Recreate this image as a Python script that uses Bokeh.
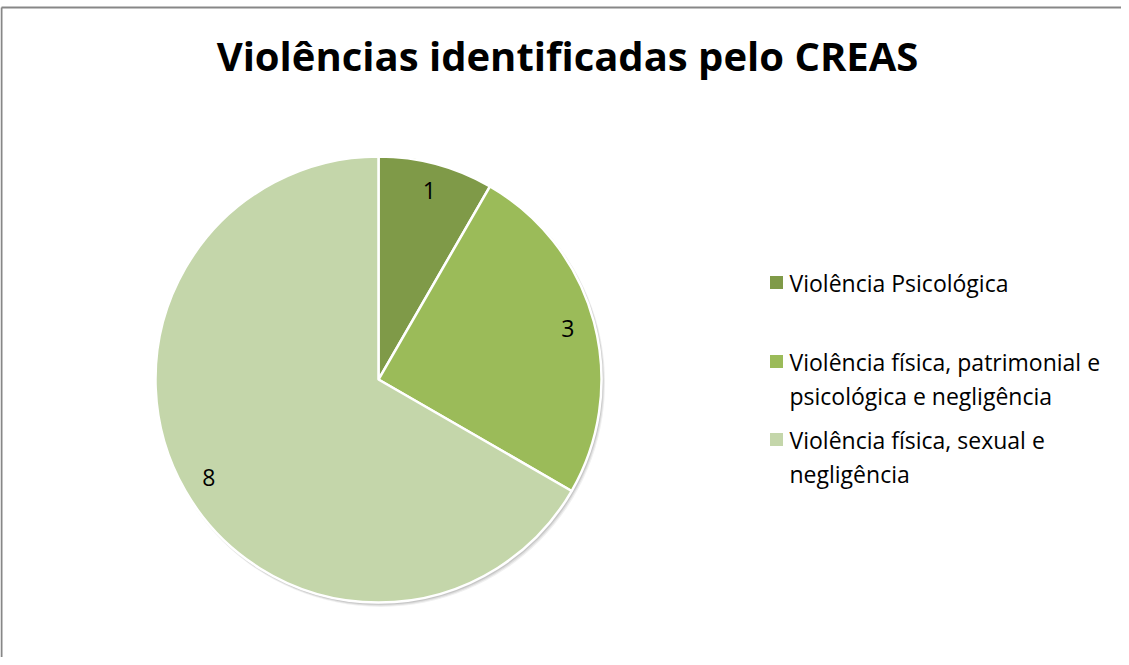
import textwrap
import numpy as np
from bokeh.plotting import figure
from bokeh.models import Range1d, ColumnDataSource
from bokeh.core.properties import value
from bokeh.embed import file_html
from bokeh.resources import INLINE

# ---- data ----
title = "Violências identificadas pelo CREAS"
categories = [
    "Violência Psicológica",
    "Violência física, patrimonial e psicológica e negligência",
    "Violência física, sexual e negligência",
]
counts = [1, 3, 8]
colors = ["#7F9A48", "#9BBB59", "#C4D6AA"]

# ---- layout (screen pixels, page coords) ----
W, H = 1121, 657
OFF = 8
def Y(sy):
    return (OFF + H) - sy

cx, cy, R = 386, 387, 223
FONT = "Open Sans"

p = figure(width=W, height=H, output_backend="svg", toolbar_location=None,
           x_range=Range1d(OFF, OFF + W), y_range=Range1d(0, H),
           min_border=0)
p.axis.visible = False
p.grid.visible = False
p.outline_line_color = None
p.background_fill_color = "white"
p.border_fill_color = "white"

# frame (left and top visible)
p.segment(x0=[9, 9], y0=[Y(15), Y(15)], x1=[9, OFF + W + 5], y1=[Y(OFF + H + 5), Y(15)],
          line_color="#878787", line_width=2)

# title
p.text(x=[575], y=[Y(63)], text=[title], text_align="center", text_baseline="middle",
       text_font=value(FONT), text_font_style="bold", text_font_size="40px", text_color="black")

# pie
vals = np.array(counts, dtype=float)
frac = vals / vals.sum()
cum = np.concatenate([[0], np.cumsum(frac)])
start = 90 - cum[:-1] * 360
end = 90 - cum[1:] * 360
mid = np.deg2rad((start + end) / 2)

# soft shadow
for k, a in [(4, 0.06), (3, 0.08), (2, 0.10)]:
    p.circle(x=[cx + k * 0.6], y=[Y(cy + k * 0.8)], radius=R + k * 0.3,
             fill_color="#000000", fill_alpha=a, line_color=None)

src = ColumnDataSource(dict(start=start, end=end, color=colors))
p.wedge(x=cx, y=Y(cy), radius=R, start_angle="start", end_angle="end",
        start_angle_units="deg", end_angle_units="deg", direction="clock",
        fill_color="color", line_color="white", line_width=2.5, source=src)

lr = 196
lx = cx + lr * np.cos(mid)
ly = Y(cy) + lr * np.sin(mid)
p.text(x=lx, y=ly, text=[str(c) for c in counts], text_align="center",
       text_baseline="middle", text_font=value(FONT), text_font_size="23px",
       text_color="black")

# legend
item_y = [290, 369, 447]
line_gap = 34
sq_x, tx = 784, 797
p.scatter(x=[sq_x] * len(categories), y=[Y(v) for v in item_y], marker="square", size=13,
          fill_color=colors, line_color=None)
xs, ys, ts = [], [], []
for lab, iy in zip(categories, item_y):
    for j, line in enumerate(textwrap.wrap(lab, 31)):
        xs.append(tx)
        ys.append(Y(iy + j * line_gap))
        ts.append(line)
p.text(x=xs, y=ys, text=ts, text_align="left", text_baseline="middle",
       text_font=value(FONT), text_font_size="23px", text_color="black")

open("out.html", "w").write(file_html(p, INLINE))
